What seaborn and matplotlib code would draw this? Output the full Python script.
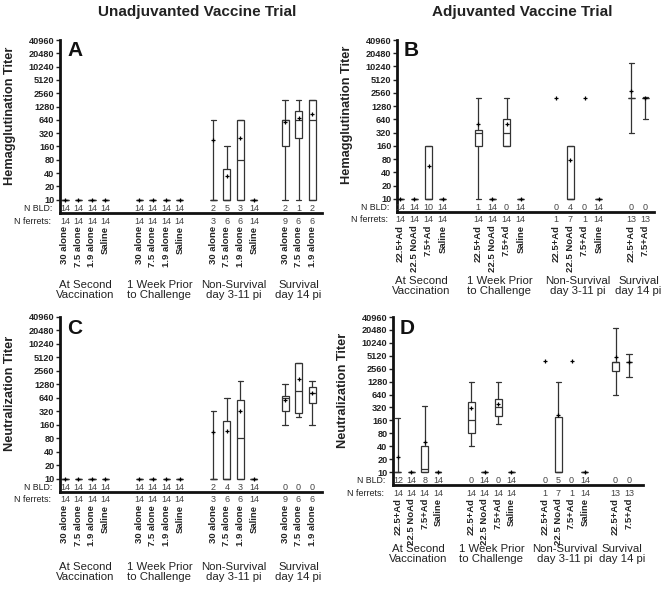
import matplotlib
matplotlib.use("Agg")
import matplotlib.pyplot as plt
import matplotlib.ticker as mticker
import seaborn as sns

# ------------------------------------------------------------
# data
# ------------------------------------------------------------
titles = ["Unadjuvanted Vaccine Trial", "Adjuvanted Vaccine Trial"]
group_labels = ["At Second\nVaccination", "1 Week Prior\nto Challenge",
                "Non-Survival\nday 3-11 pi", "Survival\nday 14 pi"]

unadj_cats = ["30 alone", "7.5 alone", "1.9 alone", "Saline",
              "30 alone", "7.5 alone", "1.9 alone", "Saline",
              "30 alone", "7.5 alone", "1.9 alone", "Saline",
              "30 alone", "7.5 alone", "1.9 alone"]
unadj_group = [0, 0, 0, 0, 1, 1, 1, 1, 2, 2, 2, 2, 3, 3, 3]

adj_cats = ["22.5+Ad", "22.5 NoAd", "7.5+Ad", "Saline",
            "22.5+Ad", "22.5 NoAd", "7.5+Ad", "Saline",
            "22.5+Ad", "22.5 NoAd", "7.5+Ad", "Saline",
            "22.5+Ad", "7.5+Ad"]
adj_group = [0, 0, 0, 0, 1, 1, 1, 1, 2, 2, 2, 2, 3, 3]

titer_ticks = [10, 20, 40, 80, 160, 320, 640, 1280, 2560, 5120,
               10240, 20480, 40960]

# (low whisker, q1, median, q3, high whisker, mean)
FLAT = (10, 10, 10, 10, 10, 10)

hai_unadj = [FLAT, FLAT, FLAT, FLAT,
             FLAT, FLAT, FLAT, FLAT,
             (10, 10, 10, 10, 640, 226), (10, 10, 10, 49, 160, 35),
             (10, 10, 80, 640, 640, 250), FLAT,
             (10, 160, 640, 640, 1810, 580), (10, 250, 640, 1000, 1810, 700),
             (10, 10, 640, 1810, 1810, 860)]
hai_unadj_bld = [14, 14, 14, 14, 14, 14, 14, 14, 2, 5, 3, 14, 2, 1, 2]

hai_adj = [FLAT, FLAT, (10, 10, 10, 160, 160, 55), FLAT,
           (10, 160, 320, 360, 1920, 500), FLAT,
           (160, 160, 320, 640, 1920, 512), FLAT,
           (1920, 1920, 1920, 1920, 1920, 1920), (10, 10, 10, 160, 160, 76),
           (1920, 1920, 1920, 1920, 1920, 1920), FLAT,
           (320, 1920, 1920, 1920, 12600, 2780),
           (640, 1920, 1920, 1920, 2100, 1950)]
hai_adj_bld = [14, 14, 10, 14, 1, 14, 0, 14, 0, 4, 0, 14, 0, 0]

neut_unadj = [FLAT, FLAT, FLAT, FLAT,
              FLAT, FLAT, FLAT, FLAT,
              (10, 10, 10, 10, 320, 110), (10, 10, 10, 190, 640, 113),
              (10, 10, 80, 560, 1500, 326), FLAT,
              (160, 320, 640, 700, 1280, 573), (240, 290, 905, 3750, 3750, 1650),
              (160, 500, 800, 1100, 1500, 800)]
neut_unadj_bld = [14, 14, 14, 14, 14, 14, 14, 14, 2, 4, 3, 14, 0, 0, 0]

neut_adj = [(10, 10, 10, 10, 180, 23), FLAT, (10, 10, 11.5, 40, 350, 51), FLAT,
            (40, 80, 160, 434, 1280, 315), FLAT,
            (130, 200, 320, 494, 1280, 384), FLAT,
            (3800, 3800, 3800, 3800, 3800, 3800), (10, 10, 10, 190, 1280, 213),
            (3800, 3800, 3800, 3800, 3800, 3800), FLAT,
            (640, 2290, 3720, 3720, 23000, 4800),
            (1610, 3720, 3720, 3720, 5600, 3720)]
neut_adj_bld = [12, 14, 8, 14, 0, 14, 0, 14, 0, 5, 0, 14, 0, 0]

unadj_ferrets = [14, 14, 14, 14, 14, 14, 14, 14, 3, 6, 6, 14, 9, 6, 6]
adj_ferrets = [14, 14, 14, 14, 14, 14, 14, 14, 1, 7, 1, 14, 13, 13]

# ------------------------------------------------------------
# style
# ------------------------------------------------------------
sns.set_theme(style="ticks")
plt.rcParams["font.family"] = ["Liberation Sans", "DejaVu Sans"]
plt.rcParams["text.color"] = "#222222"

W, H = 661, 592
fig = plt.figure(figsize=(W / 100, H / 100), dpi=100)

group_starts = [0, 5.5, 11, 16.3]
LINE = "#333333"


def positions(groups):
    pos = []
    last, k = None, 0
    for g in groups:
        k = k + 1 if g == last else 0
        last = g
        pos.append(group_starts[g] + k)
    return pos


def add_panel(rect_px, xlim, letter, ylabel, stats, bld, ferrets, cats,
              groups, group_gap):
    left, top, right, bottom = rect_px
    ax = fig.add_axes([left / W, 1 - bottom / H, (right - left) / W,
                       (bottom - top) / H])
    pos = positions(groups)

    box_stats, box_pos = [], []
    for p, s, n in zip(pos, stats, ferrets):
        if n == 1:
            continue
        lo, q1, med, q3, hi, mean = s
        box_stats.append(dict(whislo=lo, q1=q1, med=med, q3=q3, whishi=hi))
        box_pos.append(p)
    ax.bxp(box_stats, positions=box_pos, widths=0.52, capwidths=0.38,
           showfliers=False, patch_artist=True,
           boxprops=dict(facecolor="white", edgecolor=LINE, linewidth=0.9),
           whiskerprops=dict(color=LINE, linewidth=0.9),
           capprops=dict(color=LINE, linewidth=0.9),
           medianprops=dict(color=LINE, linewidth=0.9))

    means = [s[5] for s in stats]
    sns.scatterplot(x=pos, y=means, ax=ax, marker="+", color="black", s=6,
                    linewidth=0.9, legend=False, zorder=5)

    ax.set_yscale("log", base=2)
    ax.set_ylim(5, 40960)
    ax.set_xlim(*xlim)
    ax.set_yticks(titer_ticks)
    ax.set_yticklabels([str(t) for t in titer_ticks])
    ax.yaxis.set_minor_locator(mticker.NullLocator())
    ax.set_xticks([])
    ax.tick_params(axis="y", length=3, width=1, pad=1, labelsize=6.6,
                   colors="#222222")
    for lab in ax.get_yticklabels():
        lab.set_fontweight("bold")
    sns.despine(ax=ax)
    for side in ("left", "bottom"):
        ax.spines[side].set_linewidth(2)
        ax.spines[side].set_color("#111111")
    ax.patch.set_alpha(0)

    # N BLD row inside the axes
    for p, n in zip(pos, bld):
        ax.text(p, 6.3, str(n), ha="center", va="center", fontsize=6.5,
                color="#444444")
    ax.annotate("N BLD:", xy=(0, 6.2), xycoords=ax.get_yaxis_transform(),
                xytext=(-8, 0), textcoords="offset pixels", ha="right",
                va="center", fontsize=6.3, color="#222222")

    # N ferrets row and category labels under the axis
    for p, n, c in zip(pos, ferrets, cats):
        ax.annotate(str(n), xy=(p, 0), xycoords=("data", "axes fraction"),
                    xytext=(0, -8), textcoords="offset pixels", ha="center",
                    va="center", fontsize=6.5, color="#444444")
        ax.annotate(c, xy=(p, 0), xycoords=("data", "axes fraction"),
                    xytext=(0, -13), textcoords="offset pixels", ha="center",
                    va="top", rotation=90, fontsize=6.8, fontweight="bold",
                    color="#222222")
    ax.annotate("N ferrets:", xy=(0, 0), xycoords="axes fraction",
                xytext=(-9, -8), textcoords="offset pixels", ha="right",
                va="center", fontsize=6.5, color="#222222")

    # group labels
    for g, name in enumerate(group_labels):
        gp = [p for p, gg in zip(pos, groups) if gg == g]
        ax.annotate(name, xy=(sum(gp) / len(gp), 0),
                    xycoords=("data", "axes fraction"),
                    xytext=(0, -group_gap), textcoords="offset pixels",
                    ha="center", va="top", fontsize=8.2,
                    linespacing=1.05, color="#222222")

    fig.text((left + 7) / W, 1 - (top + 11) / H, letter, ha="left",
             va="center", fontsize=15, fontweight="bold", color="#111111")
    fig.text((left - 50) / W, 1 - (top + bottom - 22) / 2 / H, ylabel,
             rotation=90, ha="center", va="center", fontsize=9.2,
             fontweight="bold", color="#222222")
    return ax


add_panel((60, 40, 322, 213), (-0.37, 19.04), "A", "Hemagglutination Titer",
          hai_unadj, hai_unadj_bld, unadj_ferrets, unadj_cats, unadj_group, 67)
add_panel((397, 40, 654, 212), (-0.23, 17.9), "B", "Hemagglutination Titer",
          hai_adj, hai_adj_bld, adj_ferrets, adj_cats, adj_group, 64)
add_panel((60, 317, 322, 492), (-0.37, 19.04), "C", "Neutralization Titer",
          neut_unadj, neut_unadj_bld, unadj_ferrets, unadj_cats, unadj_group, 70)
add_panel((393, 317, 643, 485), (-0.37, 18.35), "D", "Neutralization Titer",
          neut_adj, neut_adj_bld, adj_ferrets, adj_cats, adj_group, 59)

fig.text(197 / W, 1 - 12 / H, titles[0], ha="center", va="center",
         fontsize=11, fontweight="bold", color="#222222")
fig.text(522 / W, 1 - 12 / H, titles[1], ha="center", va="center",
         fontsize=11, fontweight="bold", color="#222222")

fig.savefig("out.png", dpi=100, facecolor="white")
